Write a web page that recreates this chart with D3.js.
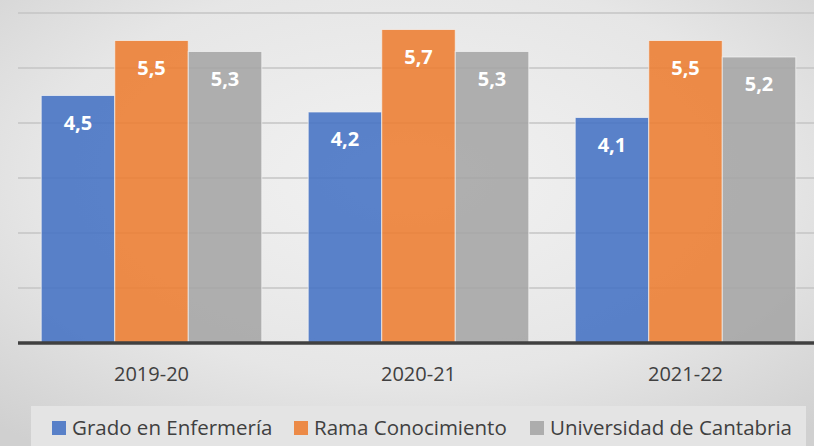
<!DOCTYPE html>
<html>
<head>
<meta charset="utf-8">
<script src="https://cdn.jsdelivr.net/npm/d3@7"></script>
<style>
  body { margin: 0; overflow: hidden; }
  text { font-family: "Open Sans", sans-serif; }
</style>
</head>
<body>
<div id="chart"></div>
<script>
var categories = ["2019-20", "2020-21", "2021-22"];
var seriesNames = ["Grado en Enfermería", "Rama Conocimiento", "Universidad de Cantabria"];
var enfermeria = [4.5, 4.2, 4.1];
var rama = [5.5, 5.7, 5.5];
var universidad = [5.3, 5.3, 5.2];
var gridTicks = [0, 1, 2, 3, 4, 5, 6];

var colors = ["#4472c4", "#ed7d31", "#a5a5a5"];
var seriesValues = [enfermeria, rama, universidad];

var width = 814, height = 446;
var svg = d3.select("#chart").append("svg")
    .attr("width", width)
    .attr("height", height);

// background gradient
var defs = svg.append("defs");
var grad = defs.append("radialGradient")
    .attr("id", "bg")
    .attr("cx", "50%").attr("cy", "40%").attr("r", "75%");
grad.append("stop").attr("offset", "0%").attr("stop-color", "#f2f2f2");
grad.append("stop").attr("offset", "60%").attr("stop-color", "#e6e6e6");
grad.append("stop").attr("offset", "100%").attr("stop-color", "#d0d0d0");

svg.append("rect")
    .attr("width", width)
    .attr("height", height)
    .attr("fill", "url(#bg)");

var plotLeft = 18, plotRight = 814, plotTop = 13, plotBottom = 343;

// category bands run a little past the right edge (chart is clipped there)
var x = d3.scaleBand().domain(categories).range([plotLeft, 819]).paddingInner(0.174).paddingOuter(0.087);
var xs = d3.scaleBand().domain(seriesNames).range([0, x.bandwidth()]);
var y = d3.scaleLinear().domain([0, 6]).range([plotBottom, plotTop]);

// gridlines
svg.append("g").selectAll("line")
  .data(gridTicks.slice(1))
  .enter().append("line")
    .attr("x1", plotLeft).attr("x2", plotRight)
    .attr("y1", function(d){ return y(d); })
    .attr("y2", function(d){ return y(d); })
    .style("stroke", "#c4c4c4")
    .style("stroke-width", 1.5);

// bars
seriesValues.forEach(function(vals, si){
  var g = svg.append("g");
  g.selectAll("rect")
    .data(vals)
    .enter().append("rect")
      .attr("x", function(d, i){ return x(categories[i]) + xs(seriesNames[si]); })
      .attr("y", function(d){ return y(d); })
      .attr("width", xs.bandwidth())
      .attr("height", function(d){ return y(0) - y(d); })
      .style("fill", colors[si])
      .style("fill-opacity", 0.88)
      .style("stroke", "#f4f4f4")
      .style("stroke-opacity", 0.7)
      .style("stroke-width", 1);
  g.selectAll("text")
    .data(vals)
    .enter().append("text")
      .attr("x", function(d, i){ return x(categories[i]) + xs(seriesNames[si]) + xs.bandwidth()/2; })
      .attr("y", function(d){ return y(d) + 34; })
      .attr("text-anchor", "middle")
      .style("fill", "#fff")
      .style("font-weight", "bold")
      .style("font-size", "20px")
      .text(function(d){ return d.toFixed(1).replace(".", ","); });
});

// axis
var xAxis = svg.append("g")
    .attr("transform", "translate(0," + plotBottom + ")")
    .call(d3.axisBottom(x).tickSize(0).tickPadding(24));
xAxis.select(".domain").attr("d", "M" + plotLeft + ",0H" + plotRight)
    .style("stroke", "#404040").style("stroke-width", 3.5);
xAxis.selectAll("text")
    .style("font-size", "20px")
    .style("fill", "#404040")
    .style("font-family", "'Open Sans', sans-serif");

// legend
svg.append("rect")
    .attr("x", 31).attr("y", 406)
    .attr("width", 775).attr("height", 42)
    .attr("fill", "#e4e4e4");

var legendX = [52, 294, 530];
var legend = svg.append("g").selectAll("g")
  .data(seriesNames)
  .enter().append("g")
    .attr("transform", function(d, i){ return "translate(" + legendX[i] + ",421)"; });
legend.append("rect")
    .attr("width", 14).attr("height", 14)
    .style("fill", function(d, i){ return colors[i]; })
    .style("fill-opacity", 0.88);
legend.append("text")
    .attr("x", 20).attr("y", 14)
    .style("font-size", "20.5px")
    .style("fill", "#404040")
    .text(function(d){ return d; });
</script>
</body>
</html>
